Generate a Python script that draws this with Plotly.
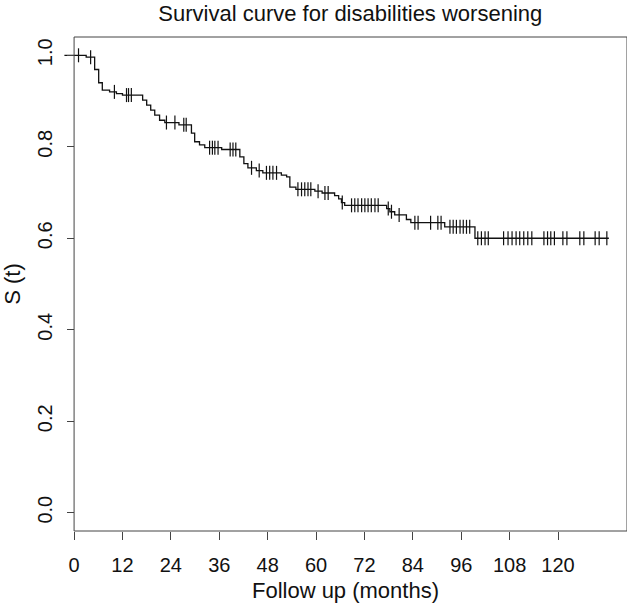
import numpy as np
import plotly.graph_objects as go

# Kaplan-Meier step function: time at which each level starts, and survival level
step_times = [-2.4, 3.0, 5.1, 6.1, 7.0, 8.8, 10.5, 12.0, 17.0, 18.0, 19.0, 20.0, 21.2,
              22.5, 26.0, 29.1, 29.9, 31.1, 32.4, 36.6, 41.1, 42.1, 43.1, 45.2, 46.8,
              51.4, 52.7, 53.5, 55.0, 59.7, 61.5, 64.6, 65.6, 66.3, 67.1, 77.5, 78.3,
              79.5, 82.4, 83.5, 91.9, 99.4]
step_surv = [1.000, 0.996, 0.969, 0.940, 0.924, 0.920, 0.916, 0.913, 0.902, 0.891, 0.880,
             0.869, 0.858, 0.853, 0.848, 0.830, 0.811, 0.804, 0.798, 0.794, 0.778, 0.763,
             0.754, 0.748, 0.743, 0.738, 0.734, 0.712, 0.707, 0.703, 0.699, 0.693, 0.686,
             0.678, 0.672, 0.665, 0.658, 0.651, 0.641, 0.634, 0.625, 0.600]
end_time = 132.6

# censoring times (months)
censor_times = [1.1, 4.1, 10.0, 13.0, 13.5, 14.2, 22.9, 25.0, 27.2, 27.8,
                33.6, 34.3, 34.9, 35.7, 38.7, 39.4, 40.1,
                44.0, 45.9, 47.7, 48.5, 49.3, 50.2,
                55.5, 56.4, 57.2, 58.0, 58.7, 60.5, 62.2, 63.0,
                66.5, 68.8, 69.6, 70.4, 71.3, 72.1, 72.9, 73.7, 74.6, 75.4,
                77.9, 78.7, 80.6, 84.5, 85.3, 88.4, 90.2, 91.0,
                93.2, 94.0, 94.8, 95.7, 96.5, 97.3, 98.1,
                100.1, 101.0, 101.9, 102.7, 106.5, 107.6, 108.6, 109.6, 110.5, 111.5,
                112.5, 113.5, 116.5, 117.4, 118.2, 119.1, 121.2, 122.2, 125.4, 126.4,
                129.2, 130.2, 132.1]

x_ticks = [0, 12, 24, 36, 48, 60, 72, 84, 96, 108, 120]
y_ticks = [0.0, 0.2, 0.4, 0.6, 0.8, 1.0]
y_tick_text = ["0.0", "0.2", "0.4", "0.6", "0.8", "1.0"]

title_text = "Survival curve for disabilities worsening"
x_title = "Follow up (months)"
y_title = "S (t)"

t_arr = np.array(step_times)
s_arr = np.array(step_surv)
c_arr = np.array(censor_times)
c_surv = s_arr[np.searchsorted(t_arr, c_arr, side="right") - 1]

FONT = "Liberation Sans, Arial, Helvetica, sans-serif"
X_MIN, X_MAX = -2.5, 137.1
AX_COL = "#444444"

fig = go.Figure()
fig.add_trace(go.Scatter(
    x=list(step_times) + [end_time],
    y=list(step_surv) + [step_surv[-1]],
    mode="lines", line=dict(color="#111111", width=1.3, shape="hv"),
    hoverinfo="skip", showlegend=False))
fig.add_trace(go.Scatter(
    x=c_arr, y=c_surv, mode="markers",
    marker=dict(symbol="line-ns", size=10, line=dict(color="#111111", width=1.2)),
    showlegend=False))

# plotting box from x=0
fig.add_shape(type="rect", xref="x", yref="paper", x0=0, x1=X_MAX, y0=0, y1=1,
              line=dict(color=AX_COL, width=1), layer="above")

ypos = (0 - X_MIN) / (X_MAX - X_MIN)
fig.update_layout(
    width=631, height=605,
    margin=dict(l=64.4, r=4, t=37, b=74, autoexpand=False),
    paper_bgcolor="white", plot_bgcolor="white",
    font=dict(family=FONT, size=20, color="#111111"),
    title=dict(text=title_text, xref="paper", x=(350.5 - 64.4) / 562.6, xanchor="center",
               yref="container", y=1 - 13 / 605, yanchor="middle", font=dict(size=22)),
    xaxis=dict(range=[X_MIN, X_MAX], tickvals=x_ticks, ticks="outside", ticklen=8,
               tickcolor=AX_COL, showline=False, showgrid=False, zeroline=False,
               tickfont=dict(size=20), automargin=False, ticklabelstandoff=8,
               title=dict(text=x_title, font=dict(size=22), standoff=7)),
    yaxis=dict(range=[-0.04, 1.04], tickvals=y_ticks, ticktext=y_tick_text,
               tickangle=-90, ticks="outside", ticklen=7, tickcolor=AX_COL,
               anchor="free", position=ypos, automargin=False,
               ticklabelstandoff=7,
               showline=False, showgrid=False, zeroline=False,
               tickfont=dict(size=20),
               title=dict(text=y_title, font=dict(size=22), standoff=10)),
)

fig.write_html("out.html", config={"displayModeBar": False},
               post_script="document.body.style.margin='0px';")
